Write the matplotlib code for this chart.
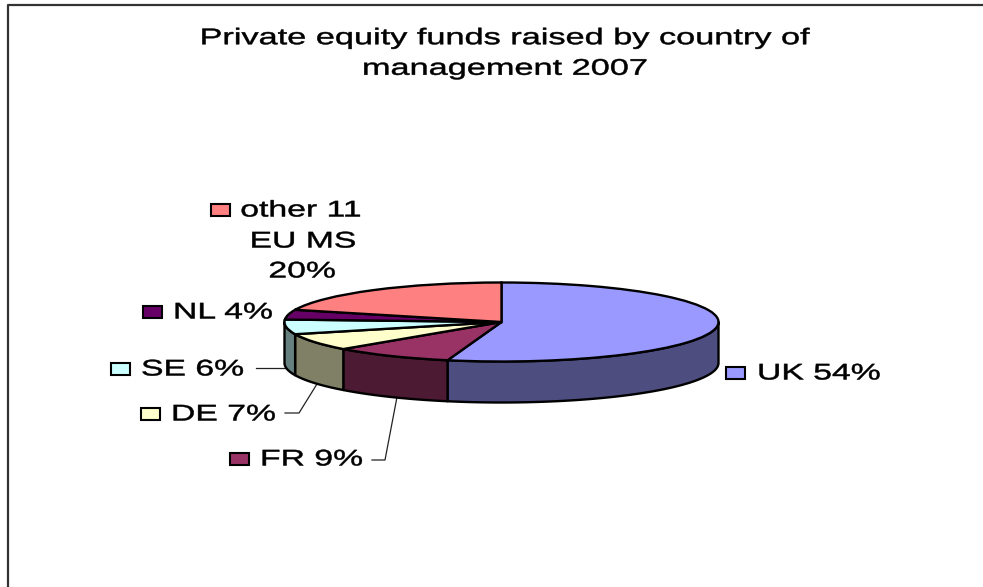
import numpy as np
import matplotlib
matplotlib.use("Agg")
import matplotlib.pyplot as plt
from matplotlib.patches import Polygon, Rectangle
from matplotlib.patheffects import AbstractPathEffect
from matplotlib.transforms import Affine2D

W, H = 983, 587
categories = ["UK", "FR", "DE", "SE", "NL", "other 11 EU MS"]
shares = [54, 9, 7, 6, 4, 20]
top_colors = ["#9999FF", "#993366", "#FFFFCC", "#CCFFFF", "#660066", "#FF8080"]
side_colors = ["#4D4D80", "#4D1A33", "#808066", "#668080", "#330033", "#804040"]
title = "Private equity funds raised by country of\nmanagement 2007"


class HStretch(AbstractPathEffect):
    """Widen real text about a pixel column, as the reference's stretched font is."""
    def __init__(self, sx, x0):
        super().__init__()
        self.sx, self.x0 = sx, x0

    def draw_path(self, renderer, gc, tpath, affine, rgbFace=None):
        t = affine + Affine2D().translate(-self.x0, 0).scale(self.sx, 1).translate(self.x0, 0)
        gc0 = renderer.new_gc()
        gc0.copy_properties(gc)
        gc0.set_foreground("black")
        gc0.set_linewidth(0.35)
        renderer.draw_path(gc0, tpath, t, rgbFace)
        gc0.restore()


plt.rcParams["font.family"] = ["Liberation Sans", "DejaVu Sans"]
fig = plt.figure(figsize=(W / 100, H / 100), dpi=100)
bg = fig.add_axes([0, 0, 1, 1])
bg.set_xlim(0, W); bg.set_ylim(H, 0); bg.axis("off")
bg.plot([8, 8, W], [H, 5, 5], color="#333333", lw=1.6, clip_on=False)

cx, cy, rx, ry, depth = 501.5, 322, 217, 39.5, 41
pie_ax = fig.add_axes([0, 0, 1, 1], facecolor="none")
wedges, _ = pie_ax.pie(shares, colors=top_colors, startangle=90, counterclock=False,
                       radius=1, center=(0, 0), frame=True,
                       wedgeprops=dict(edgecolor="black", linewidth=1.7, zorder=5))
pie_ax.set_aspect("auto")
pie_ax.set_xlim(-cx / rx, (W - cx) / rx)
pie_ax.set_ylim(-(H - cy) / ry, cy / ry)
pie_ax.axis("off")

d = depth / ry
edges = np.cumsum([0] + shares) / 100 * 2 * np.pi
for a0, a1, col in zip(edges[:-1], edges[1:], side_colors):
    lo, hi = max(a0, np.pi / 2), min(a1, 3 * np.pi / 2)
    if hi <= lo:
        continue
    t = np.linspace(lo, hi, 80)
    x, y = np.sin(t), np.cos(t)
    pts = np.r_[np.c_[x, y], np.c_[x[::-1], y[::-1] - d]]
    pie_ax.add_patch(Polygon(pts, closed=True, fc=col, ec="black", lw=1.7, zorder=2,
                             joinstyle="round"))

FS = 16.3


def txt(x, y, s, ha="left", sx=1.49, **kw):
    bg.text(x, y, s, fontsize=FS, color="black", va="center", ha=ha, zorder=6,
            path_effects=[HStretch(sx, x)], **kw)


def key(x, y, color):
    bg.add_patch(Rectangle((x, y), 19, 12, fc=color, ec="black", lw=1.5, zorder=6))


txt(505, 53, title, ha="center", sx=1.515, linespacing=1.42, multialignment="center")

key(726, 367, top_colors[0]); txt(757, 373, f"{categories[0]} {shares[0]}%")
key(230, 453, top_colors[1]); txt(260, 459, f"{categories[1]} {shares[1]}%")
key(141, 408, top_colors[2]); txt(171, 414, f"{categories[2]} {shares[2]}%")
key(111, 363, top_colors[3]); txt(141, 369, f"{categories[3]} {shares[3]}%")
key(143, 306, top_colors[4]); txt(173, 312, f"{categories[4]} {shares[4]}%")
key(211, 204, top_colors[5])
txt(301, 210, "other 11", ha="center")
txt(303, 241, "EU MS", ha="center")
txt(302, 271, f"{shares[5]}%", ha="center")

for xs, ys in [([256, 285], [368, 368]),
               ([285, 299, 317], [413, 413, 384]),
               ([372, 385, 397], [460, 460, 397])]:
    bg.plot(xs, ys, color="#222222", lw=0.9, zorder=1)

fig.savefig("out.png", dpi=100)
